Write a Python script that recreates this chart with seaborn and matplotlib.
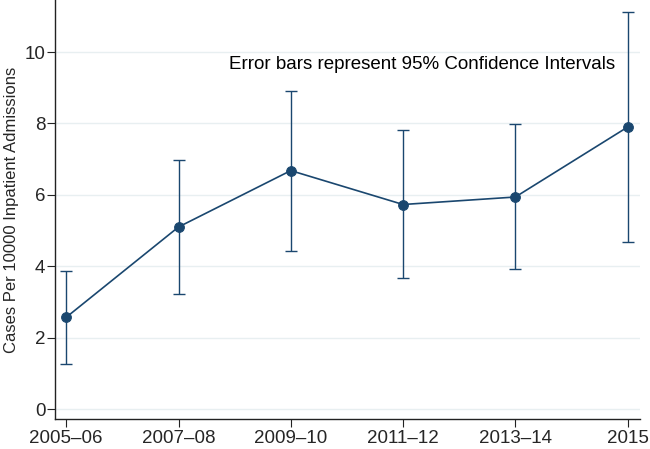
import numpy as np
import pandas as pd
import matplotlib
matplotlib.use('Agg')
import matplotlib.pyplot as plt
import seaborn as sns

# data
periods = ['2005\u201306', '2007\u201308', '2009\u201310', '2011\u201312', '2013\u201314', '2015']
rate = [2.57, 5.10, 6.68, 5.73, 5.94, 7.90]
ci_low = [1.27, 3.21, 4.43, 3.66, 3.92, 4.69]
ci_high = [3.87, 6.98, 8.92, 7.82, 7.99, 11.12]

df = pd.DataFrame({'period': periods, 'rate': rate, 'lo': ci_low, 'hi': ci_high})

sns.set_style('white')
plt.rcParams['font.family'] = ['Liberation Sans', 'DejaVu Sans']

navy = '#1a476f'

fig = plt.figure(figsize=(6.5, 4.49), dpi=100)
ax = fig.add_axes([55 / 650, 30 / 449, 585 / 650, 419 / 449])

# light horizontal grid like the stata scheme
for yv in [0, 2, 4, 6, 8, 10]:
    ax.axhline(yv, color='#e8eff1', lw=1.0, zorder=0)

# confidence intervals
yerr = np.array([df['rate'] - df['lo'], df['hi'] - df['rate']])
ax.errorbar(df['period'], df['rate'], yerr=yerr, fmt='none', ecolor=navy,
            elinewidth=1.0, capsize=4, capthick=1.0, zorder=2)

# mean line with markers
sns.lineplot(data=df, x='period', y='rate', color=navy, lw=1.2, marker='o',
             markersize=7, markeredgecolor=navy, ax=ax, zorder=3, sort=False)

ax.text(4.89, 9.64, 'Error bars represent 95% Confidence Intervals',
        ha='right', va='center', fontsize=13.5, color='black')

ax.set_xlim(-0.1, 5.11)
ax.set_ylim(-0.28, 11.46)
ax.set_yticks([0, 2, 4, 6, 8, 10])
ax.set_xlabel('')
ax.set_ylabel('Cases Per 10000 Inpatient Admissions', fontsize=12, labelpad=4)

for s in ['top', 'right']:
    ax.spines[s].set_visible(False)
for s in ['left', 'bottom']:
    ax.spines[s].set_color('#222222')
    ax.spines[s].set_linewidth(1.0)

ax.tick_params(axis='both', which='major', direction='out', length=6, width=0.8,
               color='#222222', labelsize=13.5, left=True, bottom=True)
ax.tick_params(axis='y', pad=1)
ax.tick_params(axis='x', pad=2)

plt.savefig('out.png', dpi=100)
